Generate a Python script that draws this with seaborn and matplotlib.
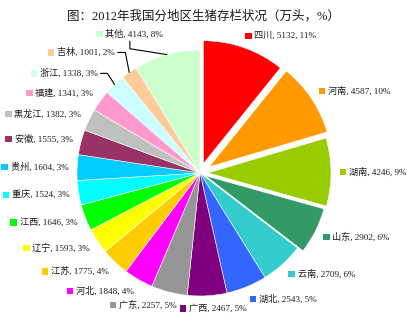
import numpy as np
import matplotlib
matplotlib.use("Agg")
import matplotlib.pyplot as plt
import seaborn as sns
from matplotlib.offsetbox import AnnotationBbox, DrawingArea, TextArea, HPacker
from matplotlib.patches import Rectangle

# 2012 hog inventory by region (10k head) and share (%)
regions = ["四川", "河南", "湖南", "山东", "云南", "湖北", "广西", "广东", "河北", "江苏",
           "辽宁", "江西", "重庆", "贵州", "安徽", "黑龙江", "福建", "浙江", "吉林", "其他"]
stock = [5132, 4587, 4246, 2902, 2709, 2543, 2467, 2257, 1848, 1775,
         1593, 1646, 1524, 1604, 1555, 1382, 1341, 1338, 1001, 4143]
share = [11, 10, 9, 6, 6, 5, 5, 5, 4, 4, 3, 3, 3, 3, 3, 3, 3, 3, 2, 8]

colors = ["#FF0000", "#FF9900", "#99CC00", "#339966", "#33CCCC", "#3366FF", "#800080",
          "#969696", "#FF00FF", "#FFCC00", "#FFFF00", "#00FF00", "#00FFFF", "#00CCFF",
          "#993366", "#C0C0C0", "#FF99CC", "#CCFFFF", "#FFCC99", "#CCFFCC"]
explode = [0.08, 0.09, 0.065, 0.05] + [0] * 16

sns.set_theme(style="white")
plt.rcParams["font.family"] = ["Liberation Serif", "Noto Sans CJK SC"]
palette = sns.color_palette(colors)

W, H = 407, 330
fig = plt.figure(figsize=(W / 100, H / 100), dpi=100)
ax = fig.add_axes([0, 0, 1, 1])

wedges, _ = ax.pie(stock, colors=palette, startangle=90, counterclock=False,
                   explode=explode, radius=1,
                   wedgeprops=dict(linewidth=0.4, edgecolor="white"))

# pie centre sits at (200, 173) px with a radius of 123 px
R_PX, CX, CY = 123, 200, 173
ax.set_xlim(-CX / R_PX, (W - CX) / R_PX)
ax.set_ylim(-(H - CY) / R_PX, CY / R_PX)
ax.axis("off")

# labels pulled away from crowded slices, drawn with leader lines
callouts = {
    "其他": dict(pos=(-0.57, 1.13), align=(0.5, 0.5), relpos=(0.5, 0.0), angA=90, angB=-9),
    "吉林": dict(pos=(-0.69, 0.98), align=(1.0, 0.5), relpos=(1.0, 0.5), angA=0, angB=-79),
    "浙江": dict(pos=(-0.83, 0.81), align=(1.0, 0.5), relpos=(1.0, 0.5), angA=0, angB=-57),
}


def label_box(name, value, pct, color):
    key = DrawingArea(4.6, 4.6, 0, 0)
    key.add_artist(Rectangle((0, 0), 4.6, 4.6, facecolor=color, edgecolor="none"))
    txt = TextArea(f"{name}, {value}, {pct}%",
                   textprops=dict(fontsize=6.6, color="#1a1a1a"))
    return HPacker(children=[key, txt], align="center", pad=0, sep=2)


for w, name, value, pct, color, ex in zip(wedges, regions, stock, share, palette, explode):
    phi = np.deg2rad((w.theta1 + w.theta2) / 2)
    ux, uy = np.cos(phi), np.sin(phi)
    box = label_box(name, value, pct, color)
    if name in callouts:
        c = callouts[name]
        ab = AnnotationBbox(
            box, xy=(ux, uy), xybox=c["pos"], xycoords="data", boxcoords="data",
            box_alignment=c["align"], frameon=False, pad=0,
            arrowprops=dict(arrowstyle="-", color="black", lw=0.8,
                            connectionstyle=f"angle,angleA={c['angA']},angleB={c['angB']},rad=0",
                            relpos=c["relpos"], shrinkA=1.5, shrinkB=0))
    else:
        r = 1.07 + ex
        ha = 0.5 - 0.5 * np.clip(ux / 0.35, -1, 1)
        va = 0.5 - 0.5 * uy
        ab = AnnotationBbox(box, (r * ux, r * uy), xycoords="data",
                            box_alignment=(ha, va), frameon=False, pad=0)
    ax.add_artist(ab)

fig.text(0.5, 1 - 16 / H, "图：2012年我国分地区生猪存栏状况（万头，%）",
         ha="center", va="center", fontsize=9, color="#1a1a1a")

fig.savefig("out.png", dpi=100, facecolor="white")
